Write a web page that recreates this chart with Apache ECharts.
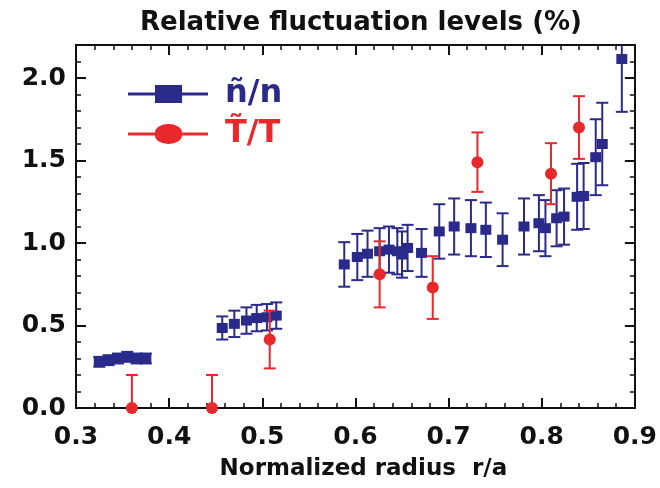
<!DOCTYPE html>
<html>
<head>
<meta charset="utf-8">
<script src="https://cdn.jsdelivr.net/npm/echarts@6/dist/echarts.min.js"></script>
<style>
  html, body { margin: 0; padding: 0; background: #fff; }
  #chart { width: 660px; height: 488px; }
</style>
</head>
<body>
<div id="chart"></div>
<script>
// density fluctuations n~/n : radius, level (%), error bar half-height
const densityR = [0.325, 0.335, 0.345, 0.355, 0.365, 0.375,
  0.457, 0.470, 0.483, 0.494, 0.505, 0.515,
  0.588, 0.602, 0.613, 0.626, 0.636, 0.645, 0.650, 0.656, 0.671,
  0.690, 0.706, 0.724, 0.740, 0.758, 0.781, 0.797, 0.804, 0.816, 0.824,
  0.838, 0.845, 0.858, 0.865, 0.886]
const densityLevel = [0.28, 0.29, 0.30, 0.31, 0.30, 0.30,
  0.485, 0.51, 0.53, 0.545, 0.55, 0.56,
  0.87, 0.915, 0.935, 0.95, 0.96, 0.95, 0.93, 0.97, 0.94,
  1.07, 1.10, 1.09, 1.08, 1.02, 1.10, 1.12, 1.09, 1.15, 1.16,
  1.28, 1.285, 1.52, 1.60, 2.115]
const densityErr = [0.03, 0.03, 0.03, 0.03, 0.03, 0.03,
  0.07, 0.08, 0.08, 0.08, 0.08, 0.08,
  0.135, 0.14, 0.14, 0.14, 0.14, 0.14, 0.14, 0.14, 0.145,
  0.165, 0.17, 0.17, 0.165, 0.16, 0.17, 0.17, 0.17, 0.17, 0.17,
  0.2, 0.2, 0.23, 0.25, 0.32]

// temperature fluctuations T~/T
const tempR = [0.360, 0.446, 0.508, 0.626, 0.683, 0.731, 0.810, 0.840]
const tempLevel = [0.0, 0.0, 0.415, 0.81, 0.73, 1.49, 1.42, 1.70]
const tempErr = [0.2, 0.2, 0.175, 0.2, 0.19, 0.18, 0.185, 0.19]

const NAVY = '#2a2a8a'
const RED = '#e8282b'
const FONT = 'DejaVu Sans'

function points(rs, vals) { return rs.map((r, i) => [r, vals[i]]) }
function bars(rs, vals, errs) {
  return rs.map((r, i) => [r, Math.max(0, vals[i] - errs[i]), vals[i] + errs[i]])
}

// vertical error bar with caps
function errorBar(color, cap) {
  return function (params, api) {
    const x = api.value(0)
    const lo = api.coord([x, api.value(1)])
    const hi = api.coord([x, api.value(2)])
    const style = { stroke: color, lineWidth: 2 }
    const kids = [
      { type: 'line', shape: { x1: lo[0], y1: lo[1], x2: hi[0], y2: hi[1] }, style: style },
      { type: 'line', shape: { x1: hi[0] - cap, y1: hi[1], x2: hi[0] + cap, y2: hi[1] }, style: style }
    ]
    if (api.value(1) > 0) {
      kids.push({ type: 'line', shape: { x1: lo[0] - cap, y1: lo[1], x2: lo[0] + cap, y2: lo[1] }, style: style })
    }
    return { type: 'group', children: kids }
  }
}

const boxLine = { show: true, onZero: false, lineStyle: { color: '#111', width: 2 } }

function xAxis(pos, labels) {
  return {
    type: 'value', position: pos, min: 0.3, max: 0.9, interval: 0.1,
    axisLine: boxLine,
    axisTick: { show: true, inside: true, length: 10, lineStyle: { color: '#111', width: 2 } },
    minorTick: { show: true, splitNumber: 5, length: 5, lineStyle: { color: '#111', width: 1.5 } },
    axisLabel: {
      show: labels, margin: 17, color: '#111', fontFamily: FONT, fontWeight: 'bold', fontSize: 25,
      formatter: v => v.toFixed(1)
    },
    splitLine: { show: false },
    name: labels ? 'Normalized radius  r/a' : '',
    nameLocation: 'middle', nameGap: 50,
    nameTextStyle: { color: '#111', fontFamily: FONT, fontWeight: 'bold', fontSize: 23, padding: [0, 0, 0, 16] }
  }
}

function yAxis(pos, major) {
  return {
    type: 'value', position: pos, min: 0, max: 2.2, interval: major ? 0.5 : 0.1,
    axisLine: boxLine,
    axisTick: { show: true, inside: true, length: major ? 10 : 5, lineStyle: { color: '#111', width: major ? 2 : 1.5 } },
    axisLabel: {
      show: major && pos === 'left', showMaxLabel: false, margin: 10, color: '#111',
      fontFamily: FONT, fontWeight: 'bold', fontSize: 25,
      formatter: v => v.toFixed(1)
    },
    splitLine: { show: false }
  }
}

const chart = echarts.init(document.getElementById('chart'))
chart.setOption({
  backgroundColor: '#fff',
  animation: false,
  title: {
    text: 'Relative fluctuation levels (%)',
    left: 356, top: 5, textAlign: 'center',
    textStyle: { color: '#111', fontFamily: FONT, fontWeight: 'bold', fontSize: 26 }
  },
  grid: { left: 76, right: 24, top: 45, bottom: 80 },
  legend: {
    orient: 'vertical', left: 123, top: 73, itemWidth: 80, itemHeight: 20, itemGap: 8,
    data: [
      {
        name: 'ñ/n',
        icon: 'path://M0,8.5H27V1H54V8.5H80V11.5H54V19H27V11.5H0Z',
        textStyle: { color: NAVY }
      },
      {
        name: 'T\u0303/T',
        icon: 'path://M0,8.5H27A13.5,8.5 0 0 1 54,8.5H80V11.5H54A13.5,8.5 0 0 1 27,11.5H0Z',
        textStyle: { color: RED }
      }
    ],
    textStyle: { fontFamily: FONT, fontWeight: 'bold', fontSize: 32, padding: [0, 0, 0, 12] }
  },
  xAxis: [xAxis('bottom', true), xAxis('top', false)],
  yAxis: [yAxis('left', true), yAxis('left', false), yAxis('right', true), yAxis('right', false)],
  series: [
    {
      name: 'nErr', type: 'custom', renderItem: errorBar(NAVY, 6), clip: true,
      encode: { x: 0, y: [1, 2] }, data: bars(densityR, densityLevel, densityErr), z: 2
    },
    {
      name: 'ñ/n', type: 'scatter', symbol: 'rect', symbolSize: [11, 10], clip: false,
      itemStyle: { color: NAVY, opacity: 1 }, data: points(densityR, densityLevel), z: 3
    },
    {
      name: 'tErr', type: 'custom', renderItem: errorBar(RED, 6), clip: true,
      encode: { x: 0, y: [1, 2] }, data: bars(tempR, tempLevel, tempErr), z: 4
    },
    {
      name: 'T\u0303/T', type: 'scatter', symbol: 'circle', symbolSize: 12, clip: false,
      itemStyle: { color: RED, opacity: 1 }, data: points(tempR, tempLevel), z: 5
    }
  ]
})
</script>
</body>
</html>
